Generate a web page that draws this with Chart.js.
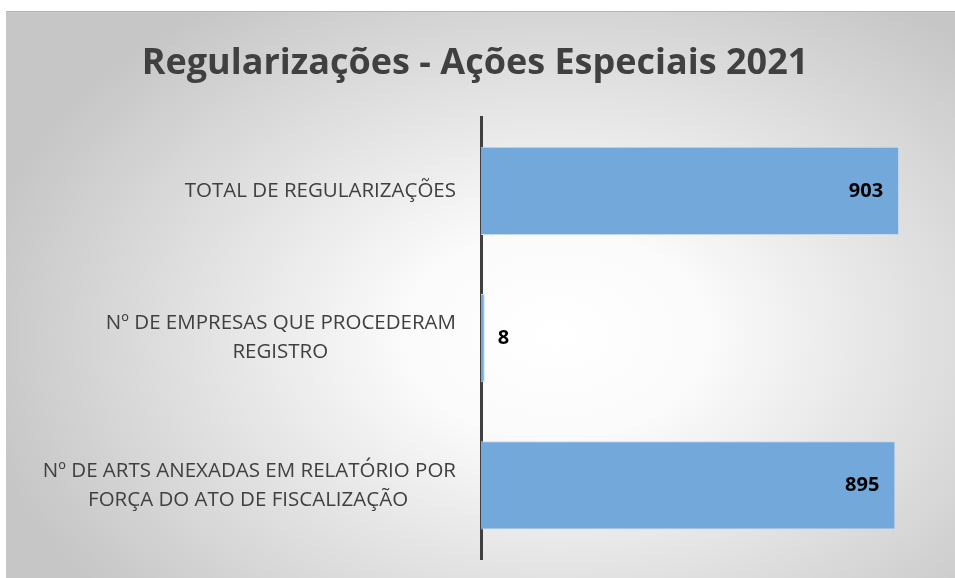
<!DOCTYPE html>
<html>
<head>
<meta charset="utf-8">
<script src="https://cdn.jsdelivr.net/npm/chart.js@4/dist/chart.umd.min.js"></script>
<style>
  html, body { margin: 0; padding: 0; background: #ffffff; overflow: hidden; }
  #frame {
    position: absolute; left: 6px; top: 11px; width: 949px; height: 567px;
    border-top: 1px solid #b4b4b4; box-sizing: border-box;
    background: radial-gradient(ellipse 62% 72% at 58% 57%, #ffffff 0%, #fbfbfb 25%, #c6c6c6 100%);
  }
  #wrap { position: absolute; left: 0; top: 0; width: 949px; height: 566px; }
</style>
</head>
<body>
<div id="frame"><div id="wrap"><canvas id="chart"></canvas></div></div>
<script>
const titleText = 'Regularizações - Ações Especiais 2021'
const categories = [
  ['TOTAL DE REGULARIZAÇÕES'],
  ['Nº DE EMPRESAS QUE PROCEDERAM', 'REGISTRO'],
  ['Nº DE ARTS ANEXADAS EM RELATÓRIO POR', 'FORÇA DO ATO DE FISCALIZAÇÃO'],
]
const values = [903, 8, 895]
const axisMax = 1000

const labelFont = { family: 'Open Sans', size: 20.5, lineHeight: 1.42 }
const measureCtx = document.createElement('canvas').getContext('2d')
measureCtx.font = labelFont.size + 'px "' + labelFont.family + '"'

// labels are right aligned as a block, lines centered inside it
function padLines(lines) {
  if (lines.length < 2) return lines[0]
  const widths = lines.map(l => measureCtx.measureText(l).width)
  const widest = Math.max(...widths)
  const space = measureCtx.measureText(' ').width
  return lines.map((l, i) => l + ' '.repeat(Math.round((widest - widths[i]) / 2 / space)))
}

const valueLabels = {
  id: 'valueLabels',
  afterDatasetsDraw(chart) {
    const ctx = chart.ctx
    const meta = chart.getDatasetMeta(0)
    const area = chart.chartArea
    ctx.save()
    ctx.font = 'bold 20px "Open Sans"'
    ctx.fillStyle = '#000000'
    ctx.textBaseline = 'middle'
    meta.data.forEach((bar, i) => {
      const v = values[i]
      if (bar.x - area.left > 60) {
        ctx.textAlign = 'right'
        ctx.fillText(String(v), bar.x - 16, bar.y)
      } else {
        ctx.textAlign = 'left'
        ctx.fillText(String(v), bar.x + 13, bar.y)
      }
    })
    ctx.restore()
  }
}

new Chart(document.getElementById('chart'), {
  type: 'bar',
  data: {
    labels: categories.map(padLines),
    datasets: [{
      data: values,
      backgroundColor: '#72a8da',
      borderColor: '#c2daf0',
      borderWidth: 1,
      categoryPercentage: 0.6,
      barPercentage: 1
    }]
  },
  plugins: [valueLabels],
  options: {
    indexAxis: 'y',
    responsive: true,
    maintainAspectRatio: false,
    animation: false,
    layout: { padding: { top: 0, right: 11, bottom: 19, left: 0 } },
    scales: {
      x: { display: false, min: 0, max: axisMax },
      y: {
        grid: { display: false, drawTicks: false },
        border: { display: true, color: '#404040', width: 3 },
        ticks: { color: '#404040', font: labelFont, padding: 25 },
        afterFit(scale) {
          scale.width = 475
          scale.paddingTop = 0
          scale.paddingBottom = 0
        }
      }
    },
    plugins: {
      legend: { display: false },
      tooltip: { enabled: false },
      title: {
        display: true,
        text: titleText,
        color: '#404040',
        font: { family: 'Open Sans', size: 36, weight: 'bold' },
        padding: { top: 30, bottom: 32 }
      }
    }
  }
})
</script>
</body>
</html>
